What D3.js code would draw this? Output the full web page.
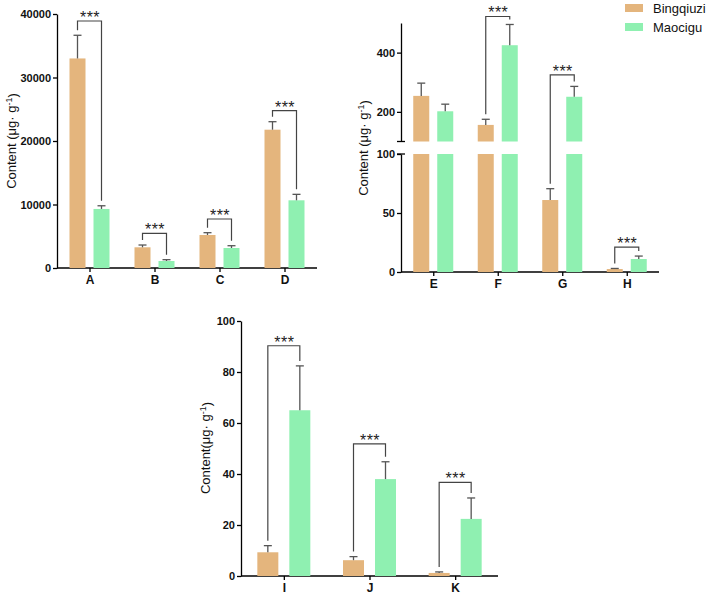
<!DOCTYPE html>
<html>
<head>
<meta charset="utf-8">
<script src="https://cdn.jsdelivr.net/npm/d3@7"></script>
<style>
  body { margin: 0; background: #fff; }
  svg { display: block; font-family: Arial, "Liberation Sans", sans-serif; }
</style>
</head>
<body>
<svg id="chart" width="708" height="597"></svg>
<script>
// ---- data: panel 1 ----
var cats1 = ["A", "B", "C", "D"],
    bing1 = [33000, 3260, 5200, 21780],
    bingErr1 = [3650, 360, 360, 1260],
    mao1 = [9300, 1100, 3150, 10660],
    maoErr1 = [500, 210, 360, 940],
    sigTop1 = [38900, 5460, 7720, 24770],
    ticks1 = [0, 10000, 20000, 30000, 40000];

// ---- data: panel 2 (broken axis) ----
var cats2 = ["E", "F", "G", "H"],
    bing2 = [254, 156, 61, 2.5],
    bingErr2 = [43, 19, 9.6, 0.5],
    mao2 = [202, 425, 251, 11],
    maoErr2 = [24, 70, 35, 2.5],
    sigTop2 = [null, 522, 325, 21],
    ticks2Low = [0, 50, 100],
    ticks2High = [200, 400];

// ---- data: panel 3 ----
var cats3 = ["I", "J", "K"],
    bing3 = [9.3, 6.2, 1.2],
    bingErr3 = [2.6, 1.4, 0.4],
    mao3 = [65, 38, 22.4],
    maoErr3 = [17.4, 6.8, 8.2],
    sigTop3 = [90.3, 51.8, 36.7],
    ticks3 = [0, 20, 40, 60, 80, 100];

var series = ["Bingqiuzi", "Maocigu"];
var colors = ["#E4B57D", "#8FF0B1"];
var errColor = "#555", sigColor = "#444";

var svg = d3.select("#chart");

// draws y axis title with superscript -1
function yTitle(x, y, before, after) {
    var t = svg.append("text")
        .attr("transform", "translate(" + x + "," + y + ") rotate(-90)")
        .attr("text-anchor", "middle")
        .attr("dy", "0.35em")
        .style("font-size", "13px")
        .attr("fill", "#111");
    t.append("tspan").text(before);
    t.append("tspan").attr("dy", "-0.45em").style("font-size", "9px").text("-1");
    t.append("tspan").attr("dy", "0.45em").text(after);
}

function styleAxis(g) {
    g.selectAll("path, line").attr("stroke", "#000").attr("stroke-width", 1.3);
    g.selectAll("text").style("font-weight", "bold").attr("fill", "#111");
}

// generic panel; yFor(v) gives pixel, segments(v) gives list of [y0,y1] bar pieces
function drawPanel(p) {
    var x = d3.scalePoint().domain(p.cats).range([p.x0, p.x1]).padding(0.5);

    // x axis
    var gx = svg.append("g")
        .attr("transform", "translate(0," + p.yBase + ")")
        .call(d3.axisBottom(x).tickSize(4).tickSizeOuter(0).tickPadding(3));
    gx.select(".domain").attr("d", "M" + p.x0 + ",0H" + p.x1);
    styleAxis(gx);
    gx.selectAll("text").style("font-size", "12px");

    var data = [p.bing, p.mao], errs = [p.bingErr, p.maoErr];
    data.forEach(function (vals, s) {
        var off = s === 0 ? -p.off : p.off;
        var g = svg.append("g");
        vals.forEach(function (v, i) {
            var cx = x(p.cats[i]) + off;
            p.segments(v).forEach(function (seg) {
                g.append("rect")
                    .attr("x", cx - p.bw / 2).attr("width", p.bw)
                    .attr("y", seg[1]).attr("height", seg[0] - seg[1])
                    .attr("fill", colors[s]);
            });
            var yTop = p.yFor(v), yErr = p.yFor(v + errs[s][i]);
            g.append("line").attr("x1", cx).attr("x2", cx).attr("y1", yTop).attr("y2", yErr)
                .attr("stroke", errColor).attr("stroke-width", 1.3);
            g.append("line").attr("x1", cx - 4).attr("x2", cx + 4).attr("y1", yErr).attr("y2", yErr)
                .attr("stroke", errColor).attr("stroke-width", 1.3);
        });
    });

    // significance brackets
    p.sig.forEach(function (top, i) {
        if (top == null) return;
        var xl = x(p.cats[i]) - p.off, xr = x(p.cats[i]) + p.off,
            yt = p.yFor(top),
            yl = p.yFor(p.bing[i] + p.bingErr[i]) - 5,
            yr = p.yFor(p.mao[i] + p.maoErr[i]) - 5;
        svg.append("path")
            .attr("d", "M" + xl + "," + yl + "V" + yt + "H" + xr + "V" + yr)
            .attr("fill", "none").attr("stroke", sigColor).attr("stroke-width", 1.2);
        svg.append("text")
            .attr("x", (xl + xr) / 2 + 0.5).attr("y", yt + 2)
            .attr("text-anchor", "middle")
            .style("font-size", "16px").style("letter-spacing", "0.5px")
            .attr("fill", "#222")
            .text("***");
    });
}

// ---- panel 1 ----
var y1 = d3.scaleLinear().domain([0, 40000]).range([268, 14]);
var gy1 = svg.append("g").attr("transform", "translate(57,0)")
    .call(d3.axisLeft(y1).tickValues(ticks1).tickFormat(d3.format("d")).tickSize(4).tickSizeOuter(0).tickPadding(2));
styleAxis(gy1);
gy1.selectAll("text").style("font-size", "11px");
drawPanel({
    cats: cats1, bing: bing1, bingErr: bingErr1, mao: mao1, maoErr: maoErr1, sig: sigTop1,
    x0: 57, x1: 317, yBase: 268, bw: 16, off: 12,
    yFor: y1,
    segments: function (v) { return [[y1(0), y1(v)]]; }
});
yTitle(11, 141, "Content (\u03bcg\u00b7 g", ")");

// ---- panel 2 (broken) ----
var y2Low = d3.scaleLinear().domain([0, 100]).range([272, 154]);
var y2High = d3.scaleLinear().domain([100, 500]).range([141.5, 23]);
function y2(v) { return v > 100 ? y2High(v) : y2Low(v); }
var ax2 = 401;
var gLow = svg.append("g").attr("transform", "translate(" + ax2 + ",0)")
    .call(d3.axisLeft(y2Low).tickValues(ticks2Low).tickSize(4).tickSizeOuter(0).tickPadding(2));
styleAxis(gLow);
gLow.selectAll("text").style("font-size", "11px");
var gHigh = svg.append("g").attr("transform", "translate(" + ax2 + ",0)")
    .call(d3.axisLeft(y2High).tickValues(ticks2High).tickSize(4).tickSizeOuter(0).tickPadding(2));
styleAxis(gHigh);
gHigh.selectAll("text").style("font-size", "11px");
// break caps
[y2High(100), y2Low(100)].forEach(function (yy) {
    svg.append("line").attr("x1", ax2 - 4).attr("x2", ax2 + 4).attr("y1", yy).attr("y2", yy)
        .attr("stroke", "#000").attr("stroke-width", 1.3);
});
drawPanel({
    cats: cats2, bing: bing2, bingErr: bingErr2, mao: mao2, maoErr: maoErr2, sig: sigTop2,
    x0: ax2, x1: 659, yBase: 272, bw: 16, off: 12,
    yFor: y2,
    segments: function (v) {
        if (v <= 100) return [[y2Low(0), y2Low(v)]];
        return [[y2Low(0), y2Low(100)], [y2High(100), y2High(v)]];
    }
});
yTitle(363, 148, "Content (\u03bcg\u00b7 g", ")");

// ---- panel 3 ----
var y3 = d3.scaleLinear().domain([0, 100]).range([576, 321]);
var gy3 = svg.append("g").attr("transform", "translate(241,0)")
    .call(d3.axisLeft(y3).tickValues(ticks3).tickSize(4).tickSizeOuter(0).tickPadding(2));
styleAxis(gy3);
gy3.selectAll("text").style("font-size", "11px");
drawPanel({
    cats: cats3, bing: bing3, bingErr: bingErr3, mao: mao3, maoErr: maoErr3, sig: sigTop3,
    x0: 241, x1: 498, yBase: 576, bw: 21, off: 16,
    yFor: y3,
    segments: function (v) { return [[y3(0), y3(v)]]; }
});
yTitle(205, 448, "Content(\u03bcg\u00b7 g", ")");

// ---- legend ----
var leg = svg.append("g").attr("transform", "translate(625,4)");
series.forEach(function (name, i) {
    leg.append("rect").attr("x", 0).attr("y", i * 19).attr("width", 18).attr("height", 8)
        .attr("fill", colors[i]);
    leg.append("text").attr("x", 28).attr("y", i * 19 + 4).attr("dy", "0.35em")
        .style("font-size", "13px").attr("fill", "#111").text(name);
});
</script>
</body>
</html>
